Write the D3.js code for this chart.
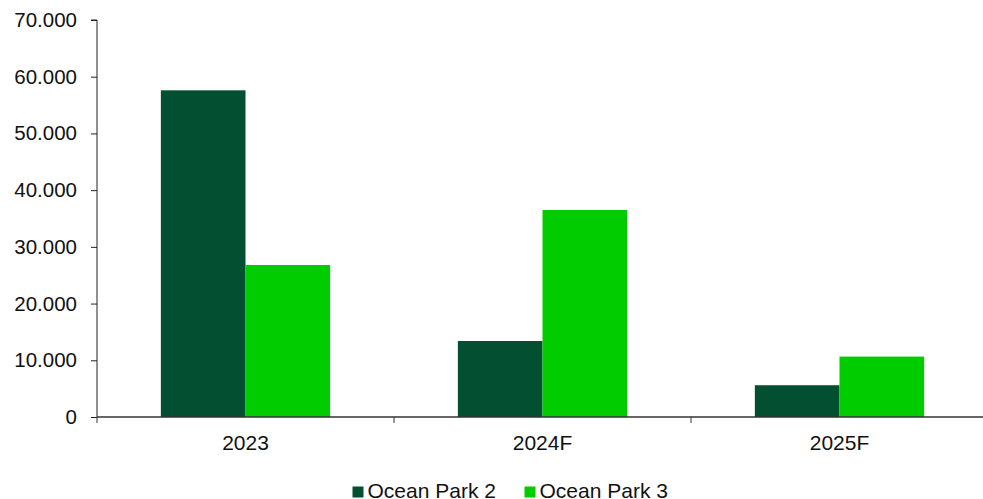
<!DOCTYPE html>
<html><head><meta charset="utf-8">
<script src="https://cdn.jsdelivr.net/npm/d3@7"></script>
<style>body{margin:0;background:#fff;}svg{display:block;font-family:"Liberation Sans",Arial,sans-serif;}</style>
</head><body>
<svg id="chart" width="983" height="499"></svg>
<script>
const categories = ["2023", "2024F", "2025F"];
const seriesNames = ["Ocean Park 2", "Ocean Park 3"];
const oceanPark2 = [57600, 13400, 5600];
const oceanPark3 = [26800, 36500, 10650];
const yTicks = [0, 10000, 20000, 30000, 40000, 50000, 60000, 70000];
const colors = ["#034F31", "#00CC00"];

const svg = d3.select("#chart");
const mLeft = 97, mRight = 988, mTop = 20, mBottom = 417;
const x = d3.scaleBand().domain(categories).range([mLeft, mRight]).paddingInner(0.43).paddingOuter(0.215);
const xs = d3.scaleBand().domain(seriesNames).range([0, x.bandwidth()]);
const y = d3.scaleLinear().domain([0, 70000]).range([mBottom, mTop]);
const fmt = v => v === 0 ? "0" : d3.format(",")(v).replace(/,/g, ".");

const data = [oceanPark2, oceanPark3];
seriesNames.forEach((s, si) => {
  svg.append("g").selectAll("rect").data(categories).join("rect")
    .attr("x", c => x(c) + xs(s))
    .attr("width", xs.bandwidth())
    .attr("y", (c, i) => y(data[si][i]))
    .attr("height", (c, i) => y(0) - y(data[si][i]))
    .attr("fill", colors[si]);
});

// y axis
const ya = svg.append("g").attr("transform", `translate(${mLeft},0)`)
  .call(d3.axisLeft(y).tickValues(yTicks).tickFormat(fmt).tickSize(6).tickPadding(14));
ya.select(".domain").attr("stroke", "#222").attr("d", `M-6,${mTop}H0V${mBottom}`);
ya.selectAll(".tick line").attr("stroke", "#222");
ya.selectAll("text").attr("font-size", 20.5).attr("fill", "#111").attr("font-family", "Liberation Sans, Arial, sans-serif");

// x axis
const xa = svg.append("g");
xa.append("line").attr("x1", mLeft).attr("x2", mRight).attr("y1", mBottom).attr("y2", mBottom).attr("stroke", "#333").attr("stroke-width", 1.3);
const bounds = categories.map(c => x(c) - x.step() * x.paddingInner() / 2).concat([mRight]);
xa.selectAll("line.tk").data(bounds).join("line").attr("class", "tk")
  .attr("x1", d => d).attr("x2", d => d).attr("y1", mBottom).attr("y2", mBottom + 6).attr("stroke", "#333");
xa.selectAll("text").data(categories).join("text")
  .attr("x", c => x(c) + x.bandwidth() / 2).attr("y", 450)
  .attr("text-anchor", "middle").attr("font-size", 21).attr("fill", "#111").text(c => c);

// legend
const legX = [352.5, 524.5];
const lg = svg.append("g");
seriesNames.forEach((s, i) => {
  lg.append("rect").attr("x", legX[i]).attr("y", 486.5).attr("width", 11).attr("height", 11).attr("fill", colors[i]);
  lg.append("text").attr("x", legX[i] + 15).attr("y", 498).attr("font-size", 21).attr("fill", "#111").text(s);
});
</script>
</body></html>
